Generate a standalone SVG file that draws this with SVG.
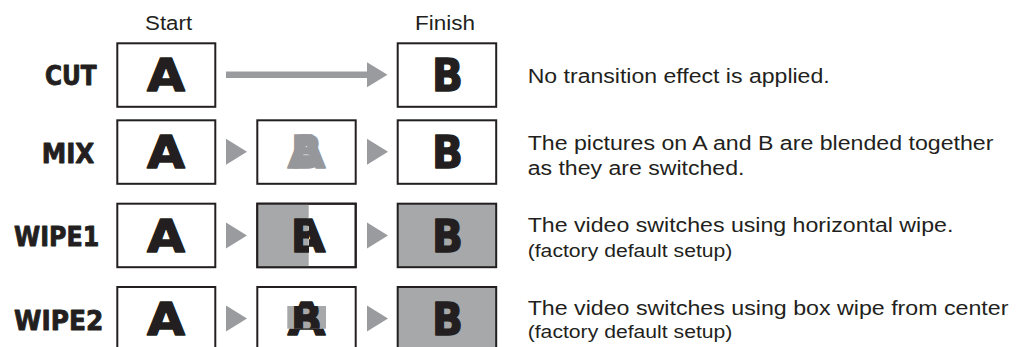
<svg xmlns="http://www.w3.org/2000/svg" width="1018" height="347" viewBox="0 0 1018 347">
<style>
.box{fill:#fff;stroke:#231f20;stroke-width:2}
.gbox{fill:#a7a8aa;stroke:#231f20;stroke-width:2}
.big{font-family:"DejaVu Sans",sans-serif;font-weight:bold;font-size:44px;fill:#231f20;stroke:#231f20;stroke-width:1.4;stroke-linejoin:round;text-anchor:middle}
.mix{fill:#96979a;stroke:#96979a}
.lbl{font-family:"DejaVu Sans",sans-serif;font-weight:bold;font-size:27px;fill:#231f20;stroke:#231f20;stroke-width:0.9;stroke-linejoin:round}
.hdr{font-family:"Liberation Sans",Arial,sans-serif;font-size:19.5px;fill:#231f20;text-anchor:middle}
.desc{font-family:"Liberation Sans",Arial,sans-serif;font-size:20px;fill:#231f20}
.sm{font-family:"Liberation Sans",Arial,sans-serif;font-size:17.5px;fill:#231f20}
.tri{fill:#9a9b9e}
</style>
<defs>
<clipPath id="w1L"><rect x="257" y="204" width="52" height="63"/></clipPath>
<clipPath id="w1R"><rect x="309" y="204" width="47" height="63"/></clipPath>
<clipPath id="w2In"><rect x="287.3" y="306" width="38.7" height="22.7"/></clipPath>
<clipPath id="w2Out"><path d="M257 287H356V350H257Z M287.3 306V328.7H326V306Z" clip-rule="evenodd"/></clipPath>
</defs>

<g id="headers">
<text class="hdr" x="168.6" y="30" textLength="47" lengthAdjust="spacingAndGlyphs">Start</text>
<text class="hdr" x="445" y="30" textLength="60" lengthAdjust="spacingAndGlyphs">Finish</text>
</g>

<g id="row-cut">
<text class="lbl" x="45" y="84.5" textLength="51.7" lengthAdjust="spacingAndGlyphs">CUT</text>
<rect class="box" x="117.3" y="43.3" width="98" height="63.5"/>
<text class="big" x="166" y="90.7" textLength="38" lengthAdjust="spacingAndGlyphs">A</text>
<rect class="box" x="397.7" y="43.3" width="98.5" height="63.5"/>
<text class="big" x="447.5" y="90.7" textLength="31" lengthAdjust="spacingAndGlyphs">B</text>
<text class="desc" x="527.7" y="83.3" textLength="302" lengthAdjust="spacingAndGlyphs">No transition effect is applied.</text>
</g>

<g id="row-mix">
<text class="lbl" x="41.7" y="162.7" textLength="52.6" lengthAdjust="spacingAndGlyphs">MIX</text>
<rect class="box" x="117.3" y="120.3" width="98" height="63.5"/>
<text class="big" x="166" y="167.7" textLength="38" lengthAdjust="spacingAndGlyphs">A</text>
<rect class="box" x="257.3" y="120.3" width="98.4" height="63.5"/>
<text class="big mix" x="306.5" y="167.7" textLength="38" lengthAdjust="spacingAndGlyphs">A</text>
<text class="big mix" x="306.5" y="167.7" textLength="31" lengthAdjust="spacingAndGlyphs">B</text>
<rect class="box" x="397.7" y="120.3" width="98.5" height="63.5"/>
<text class="big" x="447.5" y="167.7" textLength="31" lengthAdjust="spacingAndGlyphs">B</text>
<text class="desc" x="527.7" y="150" textLength="465.7" lengthAdjust="spacingAndGlyphs">The pictures on A and B are blended together</text>
<text class="desc" x="527.7" y="175" textLength="216.7" lengthAdjust="spacingAndGlyphs">as they are switched.</text>
</g>

<g id="row-wipe1">
<text class="lbl" x="14" y="246" textLength="85.3" lengthAdjust="spacingAndGlyphs">WIPE1</text>
<rect class="box" x="117.3" y="203.7" width="98" height="63.5"/>
<text class="big" x="166" y="251.5" textLength="38" lengthAdjust="spacingAndGlyphs">A</text>
<rect class="box" x="257.3" y="203.7" width="98.4" height="63.5"/>
<rect x="257.3" y="203.7" width="51.4" height="63.5" fill="#a7a8aa"/>
<rect x="257.3" y="203.7" width="98.4" height="63.5" fill="none" stroke="#231f20" stroke-width="2"/>
<text class="big" x="306.5" y="251.5" textLength="31" lengthAdjust="spacingAndGlyphs" clip-path="url(#w1L)">B</text>
<text class="big" x="306.5" y="251.5" textLength="38" lengthAdjust="spacingAndGlyphs" clip-path="url(#w1R)">A</text>
<rect class="gbox" x="397.7" y="203.7" width="98.5" height="63.5"/>
<text class="big" x="447.5" y="251.5" textLength="31" lengthAdjust="spacingAndGlyphs">B</text>
<text class="desc" x="527.7" y="231.7" textLength="425.7" lengthAdjust="spacingAndGlyphs">The video switches using horizontal wipe.</text>
<text class="sm" x="527.7" y="256.7" textLength="204.7" lengthAdjust="spacingAndGlyphs">(factory default setup)</text>
</g>

<g id="row-wipe2">
<text class="lbl" x="14" y="329.5" textLength="89.3" lengthAdjust="spacingAndGlyphs">WIPE2</text>
<rect class="box" x="117.3" y="287" width="98" height="63.5"/>
<text class="big" x="166" y="334.5" textLength="38" lengthAdjust="spacingAndGlyphs">A</text>
<rect class="box" x="257.3" y="287" width="98.4" height="63.5"/>
<rect x="287.3" y="306" width="38.7" height="22.7" fill="#a7a8aa"/>
<text class="big" x="306.5" y="334.5" textLength="38" lengthAdjust="spacingAndGlyphs" clip-path="url(#w2Out)">A</text>
<text class="big" x="306.5" y="334.5" textLength="31" lengthAdjust="spacingAndGlyphs" clip-path="url(#w2In)">B</text>
<rect class="gbox" x="397.7" y="287" width="98.5" height="63.5"/>
<text class="big" x="447.5" y="334.5" textLength="31" lengthAdjust="spacingAndGlyphs">B</text>
<text class="desc" x="527.7" y="315" textLength="480.7" lengthAdjust="spacingAndGlyphs">The video switches using box wipe from center</text>
<text class="sm" x="527.7" y="338.3" textLength="204.7" lengthAdjust="spacingAndGlyphs">(factory default setup)</text>
</g>

<g id="connectors">
<rect x="226" y="71.5" width="142" height="6.5" class="tri"/>
<path class="tri" d="M367 62.2L387.5 74.75L367 87.3Z"/>
<path class="tri" d="M226 138.75L247 151.75L226 164.75Z"/>
<path class="tri" d="M367 138.75L388 151.75L367 164.75Z"/>
<path class="tri" d="M226 222.5L247 235.5L226 248.5Z"/>
<path class="tri" d="M367 222.5L388 235.5L367 248.5Z"/>
<path class="tri" d="M226 305.5L247 318.5L226 331.5Z"/>
<path class="tri" d="M367 305.5L388 318.5L367 331.5Z"/>
</g>
</svg>
